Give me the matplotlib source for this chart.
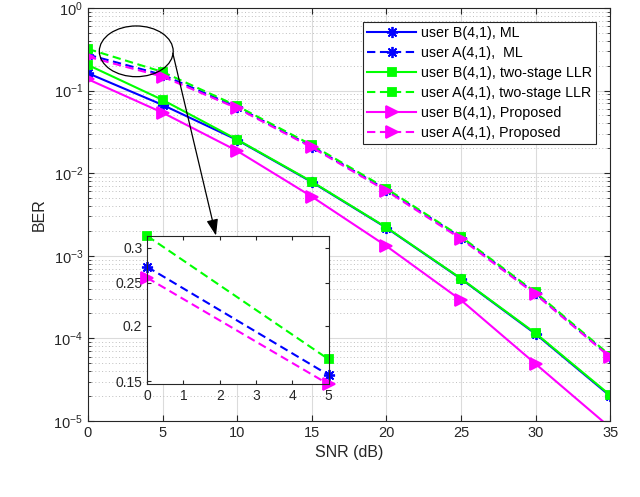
import matplotlib
matplotlib.use("Agg")
import matplotlib.pyplot as plt
from matplotlib.patches import Ellipse, FancyArrowPatch
from matplotlib.ticker import FixedLocator, FixedFormatter, NullLocator

plt.rcParams['font.family'] = ['Liberation Sans', 'DejaVu Sans']

snr = [0, 5, 10, 15, 20, 25, 30, 35]

# user B (solid) and user A (dashed) BER curves
b_ml = [0.162, 0.067, 0.0252, 0.0078, 0.00218, 5.25e-4, 1.13e-4, 2.0e-5]
a_ml = [0.2716, 0.1548, 0.063, 0.021, 0.0063, 0.00166, 3.5e-4, 6.0e-5]
b_two = [0.204, 0.077, 0.0255, 0.0079, 0.0022, 5.3e-4, 1.15e-4, 2.05e-5]
a_two = [0.319, 0.168, 0.065, 0.0219, 0.0065, 0.0017, 3.6e-4, 6.2e-5]
b_prop = [0.137, 0.054, 0.0186, 0.0052, 0.00131, 2.9e-4, 4.9e-5, 8.3e-6]
a_prop = [0.2566, 0.1475, 0.061, 0.0205, 0.0061, 0.0016, 3.4e-4, 5.9e-5]

labels = ["user B(4,1), ML", "user A(4,1),  ML",
          "user B(4,1), two-stage LLR", "user A(4,1), two-stage LLR",
          "user B(4,1), Proposed", "user A(4,1), Proposed"]

styles = [
    (b_ml, 'blue', '-', (8, 2, 0), 8),
    (a_ml, 'blue', '--', (8, 2, 0), 8),
    (b_two, '#00ff00', '-', 's', 6),
    (a_two, '#00ff00', '--', 's', 6),
    (b_prop, 'magenta', '-', '>', 8.5),
    (a_prop, 'magenta', '--', '>', 8.5),
]

fig = plt.figure(figsize=(6.4, 4.97), dpi=100)
ax = fig.add_axes([0.1375, 0.153, 0.816, 0.831])

for (vals, c, ls, mk, ms), lab in zip(styles, labels):
    line, = ax.plot(snr, vals, color=c, linestyle=ls, marker=mk, markersize=ms,
                    markerfacecolor=c, markeredgecolor=c, markeredgewidth=1.3,
                    linewidth=1.5, label=lab)
    if ls == '--':
        line.set_dashes((4.0, 2.2))

ax.set_yscale('log')
ax.set_xlim(0, 35)
ax.set_ylim(1e-5, 1)
ax.set_xticks(snr)
ax.xaxis.set_minor_locator(NullLocator())
ax.grid(True, which='major', color='0.86', linewidth=0.8, linestyle='-')
ax.grid(True, which='minor', axis='y', color='0.75', linewidth=0.7, linestyle=(0, (1, 2.5)))
ax.set_axisbelow(True)
ax.tick_params(which='both', direction='in', top=True, right=True, colors='0.15', labelsize=10.5)
ax.tick_params(which='major', length=4)
ax.tick_params(which='minor', length=2)
for s in ax.spines.values():
    s.set_color('0.15')
    s.set_linewidth(0.8)
ax.set_xlabel('SNR (dB)', fontsize=11.5, color='0.15')
ax.set_ylabel('BER', fontsize=11.5, color='0.15', labelpad=5)

leg = ax.legend(loc='upper right', bbox_to_anchor=(0.973, 0.967), borderaxespad=0,
                fontsize=10.3, fancybox=False, framealpha=1, edgecolor='0.15',
                handlelength=3.4, handletextpad=0.35, labelspacing=0.42, borderpad=0.3)
leg.get_frame().set_linewidth(0.8)

# zoom ellipse around the first points
ax.add_patch(Ellipse((0.0924, 0.895), 0.1415, 0.1228, transform=ax.transAxes,
                     fill=False, edgecolor='k', linewidth=0.9, zorder=5))

# inset with user A at 0 and 5 dB
ins = fig.add_axes([0.230, 0.2268, 0.2834, 0.2984])
for (vals, c, ls, mk, ms), lab in zip(styles, labels):
    if ls != '--':
        continue
    line, = ins.plot(snr[:2], vals[:2], color=c, linestyle=ls, marker=mk, markersize=ms,
                     markerfacecolor=c, markeredgecolor=c, markeredgewidth=1.3,
                     linewidth=1.5, clip_on=False)
    line.set_dashes((4.0, 2.2))
ins.set_yscale('log')
ins.set_xlim(0, 5)
ins.set_ylim(0.1475, 0.319)
ins.set_xticks([0, 1, 2, 3, 4, 5])
ins.yaxis.set_major_locator(FixedLocator([0.15, 0.2, 0.25, 0.3]))
ins.yaxis.set_major_formatter(FixedFormatter(['0.15', '0.2', '0.25', '0.3']))
ins.yaxis.set_minor_locator(NullLocator())
ins.tick_params(which='both', direction='in', top=True, right=True, colors='0.15',
                labelsize=10, length=3)
for s in ins.spines.values():
    s.set_color('0.15')
    s.set_linewidth(0.8)

arrow = FancyArrowPatch(posA=(0.270, 0.893), posB=(0.3375, 0.526),
                        transform=fig.transFigure, arrowstyle='-|>,head_length=0.7,head_width=0.25',
                        mutation_scale=14, color='k', linewidth=0.9, shrinkA=0, shrinkB=0)
fig.add_artist(arrow)

fig.savefig('out.png', dpi=100)
